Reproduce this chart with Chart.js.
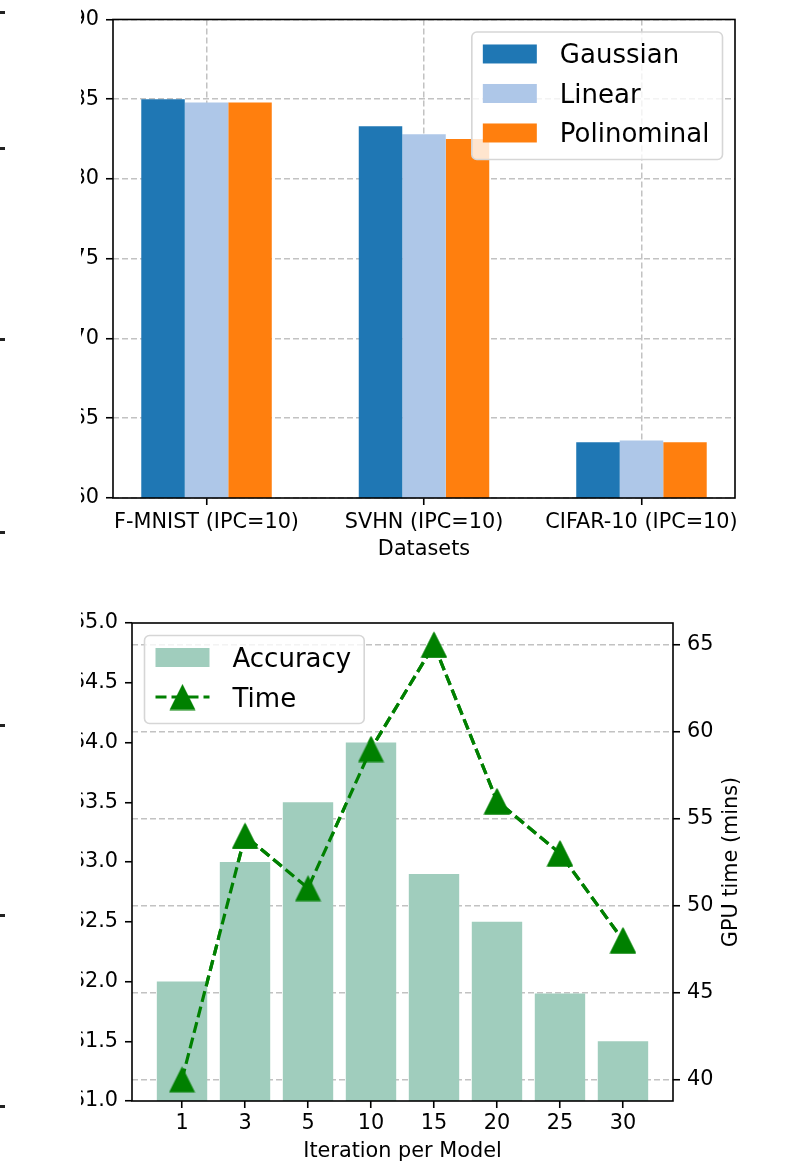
<!DOCTYPE html>
<html>
<head>
<meta charset="utf-8">
<title>Kernel comparison</title>
<script src="https://cdn.jsdelivr.net/npm/chart.js@4.4.1/dist/chart.umd.min.js"></script>
<style>
  html, body { margin: 0; padding: 0; background: #fff; }
  body { width: 799px; height: 1171px; position: relative; overflow: hidden; }
  canvas { position: absolute; }
  .edge { position: absolute; left: 0; width: 5px; height: 3px; background: #222; }
</style>
</head>
<body>
<canvas id="datasets-chart" width="718" height="580" style="left:81px;top:0"></canvas>
<canvas id="iteration-chart" width="718" height="591" style="left:81px;top:580px"></canvas>
<!-- tick stubs of the neighbouring panel, cut off at the page edge -->
<div class="edge" style="top:11px"></div>
<div class="edge" style="top:147px"></div>
<div class="edge" style="top:338px"></div>
<div class="edge" style="top:531px"></div>
<div class="edge" style="top:724px"></div>
<div class="edge" style="top:914px"></div>
<div class="edge" style="top:1105px"></div>
<script>
// top panel
var datasetNames = ['F-MNIST (IPC=10)', 'SVHN (IPC=10)', 'CIFAR-10 (IPC=10)'];
var gaussianAcc = [85.0, 83.3, 63.5];
var linearAcc = [84.8, 82.8, 63.6];
var polinominalAcc = [84.8, 82.5, 63.5];
var accTicks = [60, 65, 70, 75, 80, 85, 90];

// bottom panel
var iterLabels = ['1', '3', '5', '10', '15', '20', '25', '30'];
var iterAccuracy = [62.0, 63.0, 63.5, 64.0, 62.9, 62.5, 61.9, 61.5];
var gpuTime = [40, 54, 51, 59, 65, 56, 53, 48];
var iterAccTicks = [61.0, 61.5, 62.0, 62.5, 63.0, 63.5, 64.0, 64.5, 65.0];
var gpuTicks = [40, 45, 50, 55, 60, 65];

Chart.defaults.font.family = "'DejaVu Sans', sans-serif";
Chart.defaults.font.size = 20.8;
Chart.defaults.color = '#000';
Chart.defaults.animation = false;

function toPoints(values) {
    return values.map(function(v, i) { return { x: i, y: v }; });
}

function fixedTicks(list) {
    return function(scale) {
        scale.ticks = list.map(function(v) { return { value: v }; });
    };
}

function gridOpts(onArea) {
    return {
        offset: false,
        drawOnChartArea: onArea,
        color: '#c2c2c2',
        lineWidth: 1.5,
        tickLength: 7,
        tickWidth: 1.6,
        tickColor: '#000',
        tickBorderDash: []
    };
}
var borderOpts = { display: false, dash: [6, 3] };

// matplotlib style '^' marker
var triangle = document.createElement('canvas');
triangle.width = 27;
triangle.height = 27;
(function() {
    var c = triangle.getContext('2d');
    c.fillStyle = '#008000';
    c.beginPath();
    c.moveTo(13.5, 0.5);
    c.lineTo(26.5, 26.5);
    c.lineTo(0.5, 26.5);
    c.closePath();
    c.fill();
})();

function drawLegend(chart, corner) {
    var ctx = chart.ctx, a = chart.chartArea;
    var items = chart.data.datasets;
    ctx.save();
    ctx.font = "26px 'DejaVu Sans'";
    var textW = Math.max.apply(null, items.map(function(d) { return ctx.measureText(d.label).width; }));
    var w = 88 + textW + 13;
    var h = 22 + (items.length - 1) * 39.5 + 26.5;
    var x = corner === 'right' ? a.right - 12.5 - w : a.left + 12.5;
    var y = a.top + 12.5;
    ctx.beginPath();
    ctx.roundRect(x, y, w, h, 5);
    ctx.fillStyle = 'rgba(255,255,255,0.8)';
    ctx.fill();
    ctx.strokeStyle = '#d6d6d6';
    ctx.lineWidth = 1.6;
    ctx.stroke();
    items.forEach(function(d, i) {
        var cy = y + 22 + i * 39.5;
        if (d.type === 'line') {
            ctx.save();
            ctx.strokeStyle = d.borderColor;
            ctx.lineWidth = d.borderWidth;
            ctx.setLineDash(d.borderDash);
            ctx.beginPath();
            ctx.moveTo(x + 11, cy);
            ctx.lineTo(x + 65, cy);
            ctx.stroke();
            ctx.restore();
            ctx.drawImage(d.pointStyle, x + 38 - d.pointStyle.width / 2, cy - d.pointStyle.height / 2);
        } else {
            ctx.fillStyle = d.backgroundColor;
            ctx.fillRect(x + 11, cy - 9.5, 54, 19);
        }
        ctx.fillStyle = '#000';
        ctx.textBaseline = 'alphabetic';
        ctx.textAlign = 'left';
        ctx.fillText(d.label, x + 88, cy + 9.5);
    });
    ctx.restore();
}

var decor = {
    id: 'decor',
    afterDraw: function(chart, args, opts) {
        var ctx = chart.ctx, a = chart.chartArea;
        // keep the time line above the twin axis grid
        if (opts.redraw !== undefined) chart.getDatasetMeta(opts.redraw).controller.draw();
        ctx.save();
        ctx.strokeStyle = '#000';
        ctx.lineWidth = 1.6;
        ctx.strokeRect(a.left, a.top, a.right - a.left, a.bottom - a.top);
        if (opts.rightTitle) {
            ctx.translate(a.right + 64, (a.top + a.bottom) / 2);
            ctx.rotate(-Math.PI / 2);
            ctx.font = "20.8px 'DejaVu Sans'";
            ctx.textAlign = 'center';
            ctx.textBaseline = 'alphabetic';
            ctx.fillStyle = '#000';
            ctx.fillText(opts.rightTitle, 0, 0);
        }
        ctx.restore();
        drawLegend(chart, opts.corner);
    }
};

new Chart(document.getElementById('datasets-chart'), {
    type: 'bar',
    data: {
        datasets: [
            { label: 'Gaussian', data: toPoints(gaussianAcc), backgroundColor: '#1f77b4' },
            { label: 'Linear', data: toPoints(linearAcc), backgroundColor: '#aec7e8' },
            { label: 'Polinominal', data: toPoints(polinominalAcc), backgroundColor: '#ff7f0e' }
        ]
    },
    options: {
        responsive: false,
        datasets: { bar: { categoryPercentage: 0.6, barPercentage: 1.0 } },
        layout: { padding: { top: 19, right: 64, left: 0, bottom: 0 } },
        plugins: {
            legend: { display: false },
            tooltip: { enabled: false },
            decor: { corner: 'right' }
        },
        scales: {
            x: {
                type: 'linear', min: -0.43, max: 2.43, z: 1, offset: false,
                afterBuildTicks: fixedTicks([0, 1, 2]),
                afterFit: function(s) { s.height = 82; },
                ticks: {
                    padding: 5, maxRotation: 0, autoSkip: false,
                    callback: function(v) { return datasetNames[v]; }
                },
                grid: gridOpts(true),
                border: borderOpts,
                title: { display: true, text: 'Datasets', padding: { top: 0, bottom: 17.5 } }
            },
            y: {
                min: 60, max: 90, z: 1,
                afterBuildTicks: fixedTicks(accTicks),
                afterFit: function(s) { s.width = 32; },
                ticks: { padding: 7 },
                grid: gridOpts(true),
                border: borderOpts
            }
        }
    },
    plugins: [decor]
});

new Chart(document.getElementById('iteration-chart'), {
    data: {
        datasets: [
            {
                type: 'bar', label: 'Accuracy', data: toPoints(iterAccuracy), yAxisID: 'y',
                backgroundColor: 'rgb(160,205,189)', categoryPercentage: 0.8, barPercentage: 1.0
            },
            {
                type: 'line', label: 'Time', data: toPoints(gpuTime), yAxisID: 'y2',
                borderColor: '#008000', borderWidth: 3.2, borderDash: [11, 5],
                pointStyle: triangle, pointRadius: 13, pointBackgroundColor: '#008000'
            }
        ]
    },
    options: {
        responsive: false,
        layout: { padding: { top: 43, right: 0, left: 0, bottom: 0 } },
        plugins: {
            legend: { display: false },
            tooltip: { enabled: false },
            decor: { corner: 'left', redraw: 1, rightTitle: 'GPU time (mins)' }
        },
        scales: {
            x: {
                type: 'linear', min: -0.794, max: 7.794, offset: false,
                afterBuildTicks: fixedTicks([0, 1, 2, 3, 4, 5, 6, 7]),
                afterFit: function(s) { s.height = 70; },
                ticks: {
                    padding: 3, maxRotation: 0, autoSkip: false,
                    callback: function(v) { return iterLabels[v]; }
                },
                grid: gridOpts(false),
                border: borderOpts,
                title: { display: true, text: 'Iteration per Model', padding: { top: 0, bottom: 6.5 } }
            },
            y: {
                position: 'left', min: 61, max: 65,
                afterBuildTicks: fixedTicks(iterAccTicks),
                afterFit: function(s) { s.width = 51; },
                ticks: { padding: 7, callback: function(v) { return v.toFixed(1); } },
                grid: gridOpts(false),
                border: borderOpts
            },
            y2: {
                position: 'right', min: 38.75, max: 66.25, z: 1,
                afterBuildTicks: fixedTicks(gpuTicks),
                afterFit: function(s) { s.width = 126; },
                ticks: { padding: 7 },
                grid: gridOpts(true),
                border: borderOpts
            }
        }
    },
    plugins: [decor]
});
</script>
</body>
</html>
